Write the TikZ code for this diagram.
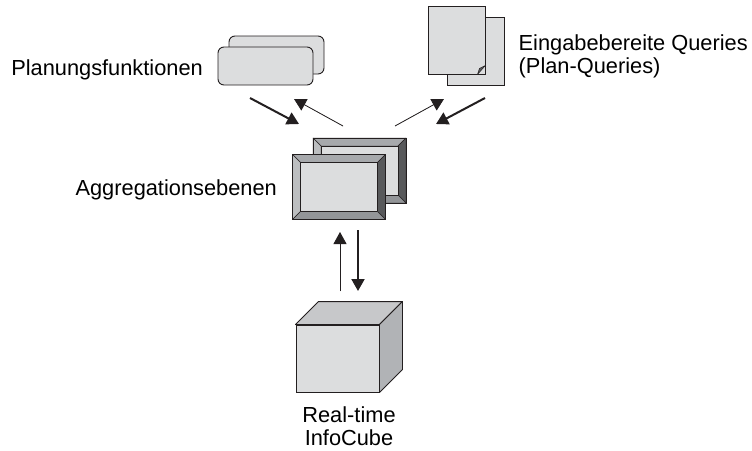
\documentclass[tikz,border=0pt]{standalone}
\usepackage{fontspec}
\setmainfont{Liberation Sans}
\usetikzlibrary{calc,arrows.meta}
\definecolor{boxgray}{HTML}{DCDDDE}
\definecolor{bevtop}{HTML}{A7A9AC}
\definecolor{bevleft}{HTML}{BCBEC0}
\definecolor{bevright}{HTML}{58595B}
\definecolor{bevbot}{HTML}{939598}
\definecolor{cubetop}{HTML}{C7C8CA}
\definecolor{cubeside}{HTML}{B1B3B6}
\definecolor{linegray}{HTML}{231F20}
\tikzset{
  lab/.style={font=\fontsize{21.8}{23}\selectfont, inner sep=0pt, text=black, align=center},
  softbox/.style={draw=linegray, fill=boxgray, line width=0.9pt, rounded corners=6pt, inner sep=0pt, minimum width=95pt, minimum height=38pt},
  sheet/.style={draw=linegray, fill=boxgray, line width=0.9pt, inner sep=0pt, minimum width=57pt, minimum height=68pt},
  panel/.style={draw=linegray, line width=1pt, inner sep=0pt, minimum width=92pt, minimum height=64pt},
  facet/.style={draw=linegray, line width=0.5pt, line join=round},
  thinarr/.style={-{Triangle[length=12pt,width=13pt]}, line width=0.8pt, draw=linegray, fill=linegray},
  thickarr/.style={-{Triangle[length=12pt,width=13pt]}, line width=2pt, draw=linegray, fill=linegray}
}
\newcommand{\bevelpanel}[2]{
  \node[panel] (#1) at (#2) {};
  \filldraw[facet, fill=bevtop] (#1.north west) -- (#1.north east) -- ($(#1.north east)+(-8,8)$) -- ($(#1.north west)+(8,8)$) -- cycle;
  \filldraw[facet, fill=bevleft] (#1.north west) -- (#1.south west) -- ($(#1.south west)+(8,-8)$) -- ($(#1.north west)+(8,8)$) -- cycle;
  \filldraw[facet, fill=bevright] (#1.north east) -- (#1.south east) -- ($(#1.south east)+(-8,-8)$) -- ($(#1.north east)+(-8,8)$) -- cycle;
  \filldraw[facet, fill=bevbot] (#1.south west) -- (#1.south east) -- ($(#1.south east)+(-8,-8)$) -- ($(#1.south west)+(8,-8)$) -- cycle;
  \filldraw[facet, fill=boxgray] ($(#1.north west)+(8,8)$) rectangle ($(#1.south east)+(-8,-8)$);
  \draw[draw=linegray, line width=1pt] (#1.north west) rectangle (#1.south east);
}
\begin{document}
\begin{tikzpicture}[x=1pt,y=-1pt]
  \useasboundingbox[fill=white] (0,0) rectangle (752,450);

  % planning functions
  \node[softbox] (func2) at (276.5,55) {};
  \node[softbox] (func1) at (265.5,66) {};
  \node[lab, anchor=east] (funclab) at (203,69.5) {Planungsfunktionen};

  % queries
  \node[sheet] (page2) at (475.5,51) {};
  \node[sheet] (page1) at (456.5,40) {};
  \filldraw[facet, fill=bevright] ($(page1.south east)+(-8,0)$) -- ($(page1.south east)+(0,-9)$) -- ($(page1.south east)+(-6,-6)$) -- cycle;
  \node[lab, anchor=west, align=left] (pagelab) at (518.5,56.5) {Eingabebereite Queries\\(Plan-Queries)};

  % aggregation levels
  \bevelpanel{level2}{359.5,170.5}
  \bevelpanel{level1}{339,187}
  \node[lab, anchor=east] (levellab) at (277,190) {Aggregationsebenen};

  % infocube
  \node[draw=linegray, fill=boxgray, line width=0.9pt, inner sep=0pt, minimum width=83pt, minimum height=67pt] (cube) at (337.5,358.5) {};
  \filldraw[facet, line width=0.9pt, fill=cubetop] (cube.north west) -- ++(23,-23) -- ($(cube.north east)+(23,-23)$) -- (cube.north east) -- cycle;
  \filldraw[facet, line width=0.9pt, fill=cubeside] (cube.north east) -- ++(23,-23) -- ($(cube.south east)+(23,-23)$) -- (cube.south east) -- cycle;
  \node[lab] (cubelab) at (349,426.5) {Real-time\\InfoCube};

  % free arrow ends
  \coordinate (a1) at (250,98);
  \coordinate (a2) at (299,124);
  \coordinate (b1) at (343,126);
  \coordinate (b2) at (294,99);
  \coordinate (c1) at (395,126);
  \coordinate (c2) at (444,99);
  \coordinate (d1) at (485,98);
  \coordinate (d2) at (436,124);
  \coordinate (e1) at (340,291);
  \coordinate (e2) at (340,232);
  \coordinate (f1) at (358,230);
  \coordinate (f2) at (358,291);

  \draw[thickarr] (a1) -- (a2);
  \draw[thinarr] (b1) -- (b2);
  \draw[thinarr] (c1) -- (c2);
  \draw[thickarr] (d1) -- (d2);
  \draw[thinarr] (e1) -- (e2);
  \draw[thickarr] (f1) -- (f2);
\end{tikzpicture}
\end{document}
